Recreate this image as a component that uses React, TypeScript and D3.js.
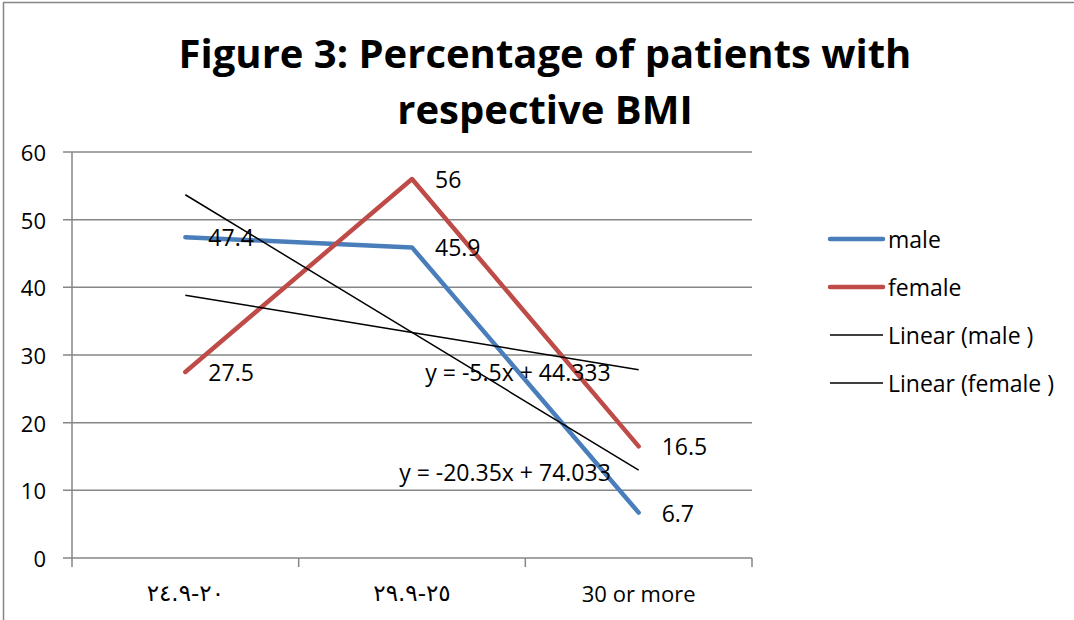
import React from "react";
import * as d3 from "d3";

const categories = ["٢٤.٩-٢٠", "٢٩.٩-٢٥", "30 or more"];
const arabicCats = [true, true, false];
const maleValues = [47.4, 45.9, 6.7];
const femaleValues = [27.5, 56, 16.5];
const yTicks = [0, 10, 20, 30, 40, 50, 60];
const titleLines = ["Figure 3: Percentage of patients with", "respective BMI"];
const legendLabels = ["male", "female", "Linear (male )", "Linear (female )"];

const W = 1074;
const H = 620;
const FONT = "'Open Sans', sans-serif";
const BLUE = "#4A7EBB";
const RED = "#BE4B48";
const GRID = "#868686";

function linReg(vals: number[]) {
  const xs = vals.map((_, i) => i + 1);
  const mx = d3.mean(xs)!;
  const my = d3.mean(vals)!;
  const num = d3.sum(xs.map((x, i) => (x - mx) * (vals[i] - my)));
  const den = d3.sum(xs.map((x) => (x - mx) * (x - mx)));
  const slope = num / den;
  return { slope, intercept: my - slope * mx };
}

function fmt(v: number) {
  return String(Math.round(v * 1000) / 1000);
}

export default function App() {
  const x = d3.scaleBand<string>().domain(categories).range([72, 752]);
  const y = d3.scaleLinear().domain([0, 60]).range([558, 152]);
  const cx = (i: number) => x(categories[i])! + x.bandwidth() / 2;

  const line = d3
    .line<number>()
    .x((_, i) => cx(i))
    .y((d) => y(d));

  const maleFit = linReg(maleValues);
  const femaleFit = linReg(femaleValues);
  const fitPts = (f: { slope: number; intercept: number }) =>
    categories.map((_, i) => f.slope * (i + 1) + f.intercept);

  const labelStyle = { fontFamily: FONT, fontSize: 23, fill: "#000" } as const;
  const tickStyle = { fontFamily: FONT, fontSize: 22, fill: "#000" } as const;

  const legendItems = [
    { label: legendLabels[0], color: BLUE, w: 4.5 },
    { label: legendLabels[1], color: RED, w: 4.5 },
    { label: legendLabels[2], color: "#000", w: 1.5 },
    { label: legendLabels[3], color: "#000", w: 1.5 },
  ];

  return (
    <div style={{ position: "absolute", left: 0, top: 0 }}>
      <svg width={W} height={H} style={{ display: "block", background: "#fff" }}>
        <rect x={0} y={0} width={W} height={H} fill="#fff" />
        <line x1={3} y1={2.5} x2={W} y2={2.5} stroke={GRID} strokeWidth={1.5} />
        <line x1={3.5} y1={2} x2={3.5} y2={H} stroke={GRID} strokeWidth={1.5} />

        {titleLines.map((t, i) => (
          <text
            key={i}
            x={545}
            y={68 + i * 56}
            textAnchor="middle"
            style={{ fontFamily: FONT, fontSize: 40, fontWeight: 700, fill: "#000" }}
          >
            {t}
          </text>
        ))}

        {yTicks.map((t) => (
          <g key={t}>
            <line x1={63} x2={752} y1={y(t)} y2={y(t)} stroke={GRID} strokeWidth={1.5} />
            <text x={46} y={y(t)} textAnchor="end" dominantBaseline="central" style={tickStyle}>
              {t}
            </text>
          </g>
        ))}
        <line x1={72} x2={72} y1={152} y2={558} stroke={GRID} strokeWidth={1.5} />
        {[...categories.map((c) => x(c)!), 752].map((p, i) => (
          <line key={i} x1={p} x2={p} y1={558} y2={567} stroke={GRID} strokeWidth={1.5} />
        ))}
        {categories.map((c, i) =>
          arabicCats[i] ? (
            <text
              key={c}
              x={cx(i)}
              y={593}
              textAnchor="middle"
              dominantBaseline="central"
              direction="ltr"
              unicodeBidi="bidi-override"
              style={{ fontFamily: "'DejaVu Sans', sans-serif", fontSize: 23, fill: "#000" }}
            >
              {c}
            </text>
          ) : (
            <text key={c} x={cx(i)} y={593} textAnchor="middle" dominantBaseline="central" style={tickStyle}>
              {c}
            </text>
          )
        )}

        <path d={line(maleValues)!} fill="none" stroke={BLUE} strokeWidth={4.5} strokeLinejoin="round" strokeLinecap="round" />
        <path d={line(femaleValues)!} fill="none" stroke={RED} strokeWidth={4.5} strokeLinejoin="round" strokeLinecap="round" />
        <path d={line(fitPts(maleFit))!} fill="none" stroke="#000" strokeWidth={1.5} />
        <path d={line(fitPts(femaleFit))!} fill="none" stroke="#000" strokeWidth={1.5} />

        {maleValues.map((v, i) => (
          <text key={"m" + i} x={cx(i) + 23} y={y(v)} dominantBaseline="central" style={labelStyle}>
            {v}
          </text>
        ))}
        {femaleValues.map((v, i) => (
          <text key={"f" + i} x={cx(i) + 23} y={y(v)} dominantBaseline="central" style={labelStyle}>
            {v}
          </text>
        ))}

        <text x={518} y={372} textAnchor="middle" dominantBaseline="central" style={labelStyle}>
          {`y = ${fmt(femaleFit.slope)}x + ${fmt(femaleFit.intercept)}`}
        </text>
        <text x={505} y={472} textAnchor="middle" dominantBaseline="central" style={labelStyle}>
          {`y = ${fmt(maleFit.slope)}x + ${fmt(maleFit.intercept)}`}
        </text>

        {legendItems.map((it, i) => (
          <g key={i} transform={`translate(0, ${239 + i * 48})`}>
            <line x1={830} x2={883} y1={0} y2={0} stroke={it.color} strokeWidth={it.w} strokeLinecap={it.w > 2 ? "round" : "butt"} />
            <text x={888} y={0} dominantBaseline="central" style={{ fontFamily: FONT, fontSize: 23, fill: "#000" }}>
              {it.label}
            </text>
          </g>
        ))}
      </svg>
    </div>
  );
}
